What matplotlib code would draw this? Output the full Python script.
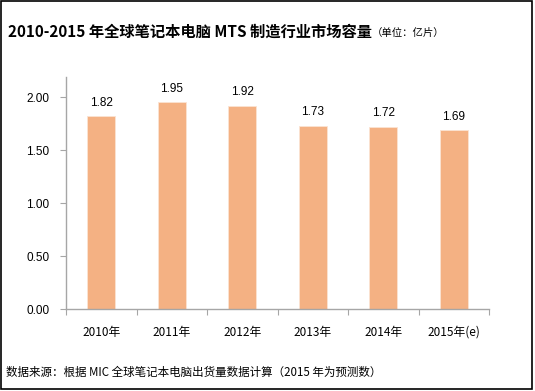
import matplotlib
matplotlib.use("Agg")
import matplotlib.pyplot as plt
from matplotlib.patches import Rectangle

plt.rcParams['font.family'] = ['Noto Sans CJK SC', 'DejaVu Sans']

categories = ["2010年", "2011年", "2012年", "2013年", "2014年", "2015年(e)"]
values = [1.82, 1.95, 1.92, 1.73, 1.72, 1.69]
yticks = [0.0, 0.5, 1.0, 1.5, 2.0]
title = "2010-2015 年全球笔记本电脑 MTS 制造行业市场容量"
unit = "（单位：亿片）"
source = "数据来源：根据 MIC 全球笔记本电脑出货量数据计算（2015 年为预测数）"

fig = plt.figure(figsize=(5.35, 3.91), dpi=100)
ax = fig.add_axes([66/535, 1-309/391, (489-66)/535, (309-77)/391])

x = list(range(len(categories)))
bars = ax.bar(x, values, width=0.4, color="#F4B183", edgecolor="#FBE3D2", linewidth=0.6)
for xi, v in zip(x, values):
    ax.text(xi, v + 0.07, f"{v:.2f}", ha="center", va="bottom", fontsize=8.5,
            family=['Liberation Sans', 'DejaVu Sans'], color="#000000")

ax.set_xlim(-0.5, len(categories) - 0.5)
ax.set_ylim(0, 2.19)
ax.set_yticks(yticks)
ax.set_yticklabels([f"{t:.2f}" for t in yticks], family=['Liberation Sans', 'DejaVu Sans'], fontsize=8.5)
ax.set_xticks([i - 0.5 for i in range(len(categories) + 1)])
ax.set_xticklabels([])
ax.set_xticks(x, minor=True)
ax.set_xticklabels(categories, minor=True, fontsize=8.5)
ax.tick_params(axis='x', which='minor', length=0, pad=12)
ax.tick_params(axis='x', which='major', length=4, color="#A6A6A6", direction='out')
ax.tick_params(axis='y', length=4, color="#A6A6A6", direction='out', pad=8)
for s in ["top", "right"]:
    ax.spines[s].set_visible(False)
for s in ["left", "bottom"]:
    ax.spines[s].set_color("#A6A6A6")
    ax.spines[s].set_linewidth(1.0)

fig.text(8/535, 1-32/391, title, fontsize=11, fontweight='bold', va='center', ha='left')
fig.text(372/535, 1-33/391, unit, fontsize=7.5, va='center', ha='left')
fig.text(6/535, 1-372/391, source, fontsize=8.3, va='center', ha='left')

fig.patches.append(Rectangle((1/535, 2/391), 531/535, 388/391, transform=fig.transFigure,
                             fill=False, edgecolor="#000000", linewidth=1.2))

fig.savefig("out.png", dpi=100)
